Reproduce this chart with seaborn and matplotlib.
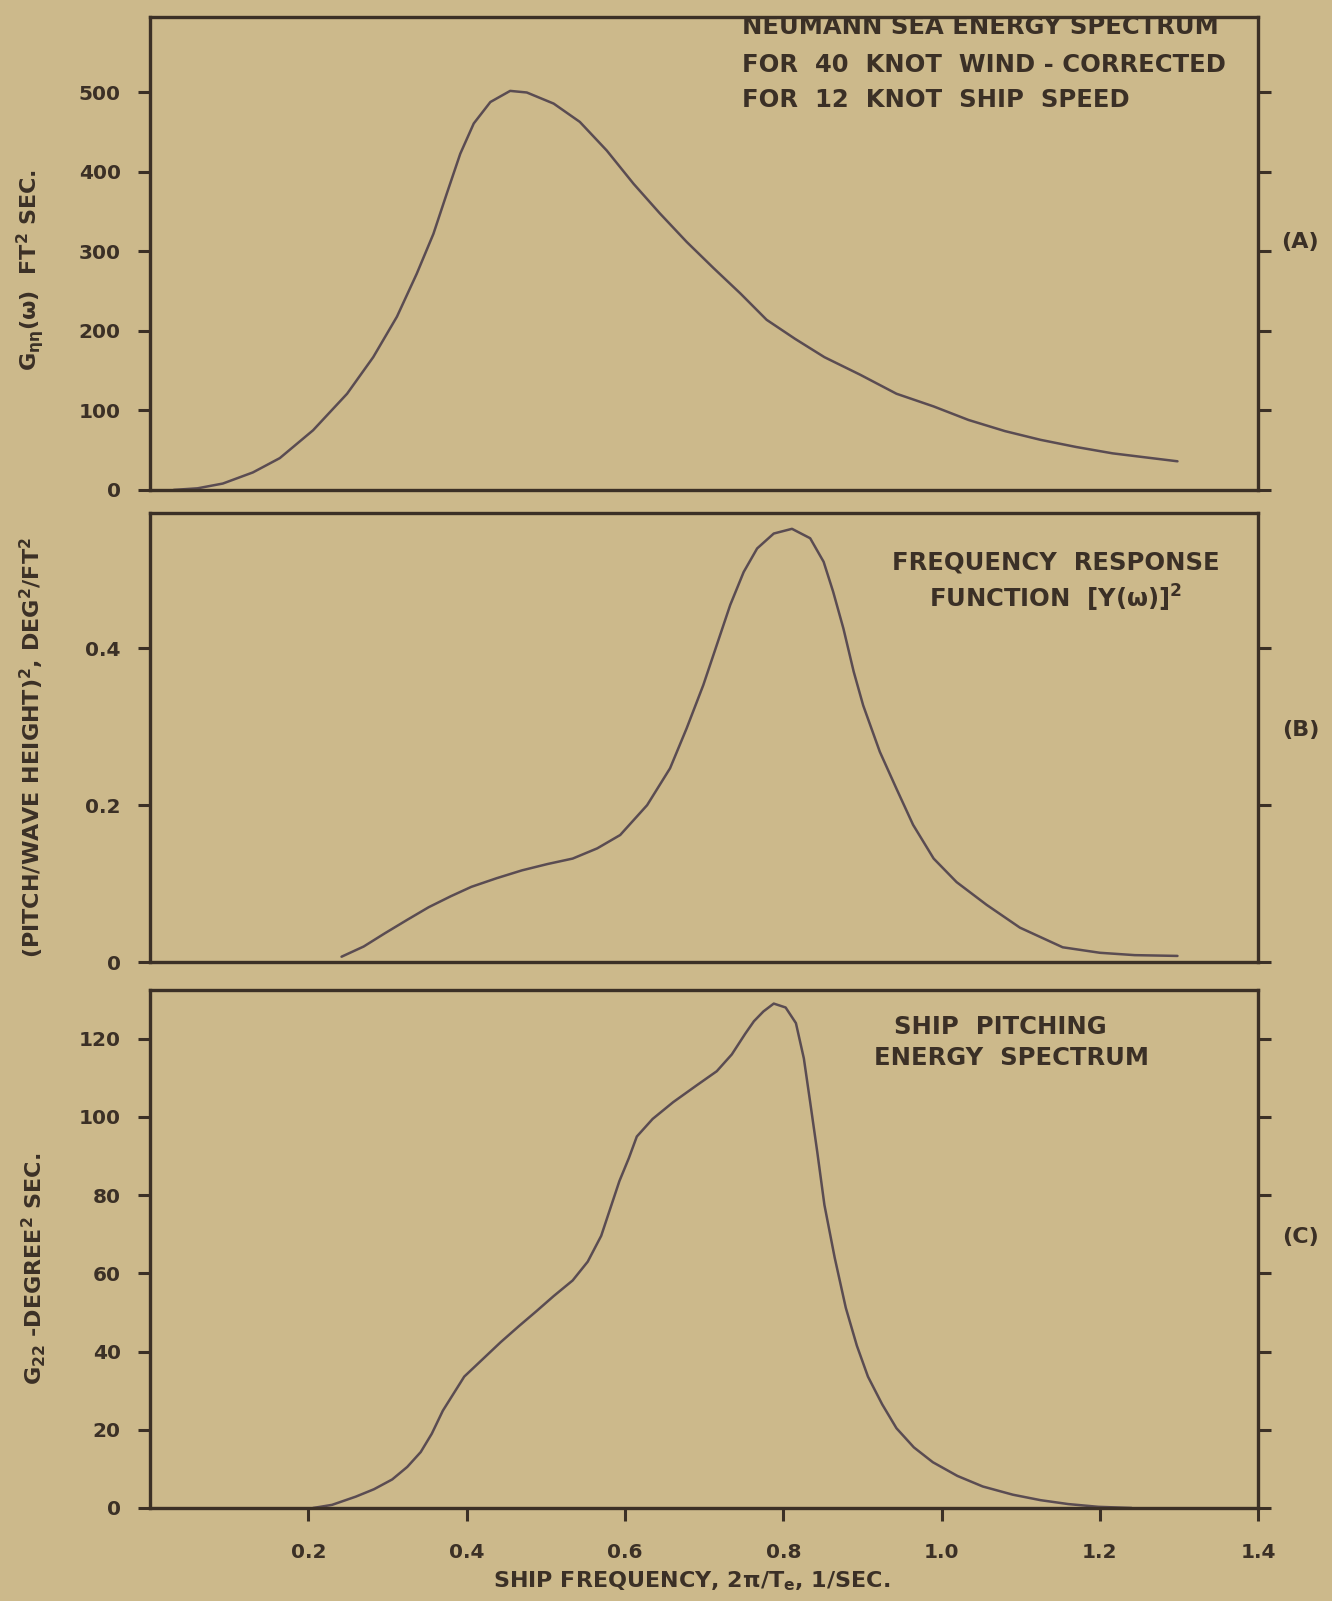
import numpy as np
import pandas as pd
import matplotlib
matplotlib.use("Agg")
import matplotlib.pyplot as plt
import seaborn as sns

# (A) Neumann sea energy spectrum
freq_a = [0.03, 0.06, 0.092, 0.13, 0.164, 0.206, 0.249, 0.282, 0.312, 0.337,
          0.358, 0.375, 0.392, 0.409, 0.430, 0.455, 0.476, 0.510, 0.543, 0.577,
          0.611, 0.644, 0.678, 0.712, 0.746, 0.779, 0.815, 0.852, 0.897, 0.943,
          0.99, 1.034, 1.08, 1.125, 1.17, 1.216, 1.257, 1.298]
sea_a = [0, 2, 8, 22, 40, 75, 121, 167, 218, 272,
         322, 373, 423, 461, 488, 502, 500, 486, 463, 427,
         385, 348, 312, 279, 247, 214, 190, 167, 145, 121,
         105, 88, 74, 63, 54, 46, 41, 36]

# (B) frequency response function
freq_b = [0.242, 0.27, 0.297, 0.325, 0.352, 0.38, 0.406, 0.438, 0.470, 0.502,
          0.534, 0.565, 0.594, 0.628, 0.657, 0.678, 0.699, 0.716, 0.733, 0.750,
          0.767, 0.788, 0.811, 0.834, 0.851, 0.863, 0.876, 0.889, 0.901, 0.922,
          0.943, 0.964, 0.990, 1.019, 1.057, 1.099, 1.153, 1.2, 1.244, 1.298]
resp_b = [0.007, 0.02, 0.037, 0.054, 0.070, 0.084, 0.096, 0.107, 0.117, 0.125,
          0.132, 0.145, 0.162, 0.200, 0.247, 0.298, 0.353, 0.404, 0.455, 0.497,
          0.527, 0.546, 0.552, 0.540, 0.510, 0.472, 0.425, 0.370, 0.327, 0.268,
          0.221, 0.175, 0.132, 0.102, 0.073, 0.044, 0.019, 0.012, 0.009, 0.008]

# (C) ship pitching energy spectrum
freq_c = [0.206, 0.23, 0.260, 0.283, 0.306, 0.325, 0.342, 0.356, 0.370, 0.397,
          0.42, 0.443, 0.466, 0.488, 0.51, 0.534, 0.553, 0.570, 0.593, 0.605,
          0.615, 0.635, 0.661, 0.69, 0.716, 0.735, 0.752, 0.763, 0.775, 0.788,
          0.803, 0.816, 0.826, 0.834, 0.843, 0.852, 0.865, 0.879, 0.893, 0.907,
          0.925, 0.943, 0.965, 0.989, 1.02, 1.052, 1.09, 1.125, 1.16, 1.198, 1.24]
pitch_c = [0, 0.8, 2.9, 4.8, 7.3, 10.5, 14.3, 19, 24.9, 33.6,
           38, 42.4, 46.5, 50.3, 54.2, 58.2, 63, 69.6, 83.6, 89.5,
           95, 99.5, 103.8, 108, 111.7, 116, 121.3, 124.5, 127, 129,
           128, 124, 115, 103.8, 91, 77.5, 64, 51.2, 41.5, 33.6,
           26.5, 20.4, 15.5, 11.7, 8.2, 5.5, 3.4, 2, 1, 0.3, 0]

xticks = [0.2, 0.4, 0.6, 0.8, 1.0, 1.2, 1.4]
xtick_labels = ["0.2", "0.4", "0.6", "0.8", "1.0", "1.2", "1.4"]
yticks_a = [0, 100, 200, 300, 400, 500]
yticks_b = [0, 0.2, 0.4]
ytick_labels_b = ["0", "0.2", "0.4"]
yticks_c = [0, 20, 40, 60, 80, 100, 120]

paper = "#ccb98b"
ink = "#3b3026"
curve = "#5a4c52"

sns.set_theme(style="ticks")
plt.rcParams["font.family"] = ["DejaVu Sans"]
plt.rcParams["font.weight"] = "bold"
plt.rcParams["text.color"] = ink
plt.rcParams["axes.labelcolor"] = ink
plt.rcParams["xtick.color"] = ink
plt.rcParams["ytick.color"] = ink
plt.rcParams["mathtext.default"] = "regular"

fig = plt.figure(figsize=(13.32, 16.01), dpi=100, facecolor=paper)
left, width = 0.1126, 0.832
ax_a = fig.add_axes([left, 0.694, width, 0.2954])
ax_b = fig.add_axes([left, 0.399, width, 0.2805])
ax_c = fig.add_axes([left, 0.0581, width, 0.3236])

df_a = pd.DataFrame({"f": freq_a, "v": sea_a})
df_b = pd.DataFrame({"f": freq_b, "v": resp_b})
df_c = pd.DataFrame({"f": freq_c, "v": pitch_c})

for ax, df in [(ax_a, df_a), (ax_b, df_b), (ax_c, df_c)]:
    sns.lineplot(data=df, x="f", y="v", ax=ax, color=curve, linewidth=1.8,
                 sort=False, estimator=None)
    ax.set_facecolor(paper)
    ax.set_xlim(0, 1.4)
    for s in ax.spines.values():
        s.set_color(ink)
        s.set_linewidth(2.4)
    ax.tick_params(axis="y", which="both", left=True, right=True, direction="out",
                   length=9, width=2.2, labelsize=14.5, pad=12)
    ax.set_xlabel("")
    ax.set_ylabel("")

ax_a.set_ylim(0, 595)
ax_a.set_yticks(yticks_a)
ax_b.set_ylim(0, 0.572)
ax_b.set_yticks(yticks_b)
ax_b.set_yticklabels(ytick_labels_b)
ax_c.set_ylim(0, 132.5)
ax_c.set_yticks(yticks_c)

for ax in (ax_a, ax_b):
    ax.set_xticks(xticks)
    ax.tick_params(axis="x", length=0, labelbottom=False)

ax_c.set_xticks(xticks)
ax_c.set_xticklabels(xtick_labels)
ax_c.tick_params(axis="x", direction="out", length=9, width=2.2,
                 labelsize=14.5, pad=16)

# axis titles
ax_a.set_ylabel(r"G$_{\eta\eta}$(ω)  FT$^2$ SEC.", fontsize=16, fontweight="bold")
ax_a.yaxis.set_label_coords(-0.094, 0.465)
ax_b.set_ylabel("(PITCH/WAVE HEIGHT)$^2$, DEG$^2$/FT$^2$", fontsize=16, fontweight="bold")
ax_b.yaxis.set_label_coords(-0.094, 0.479)
ax_c.set_ylabel("G$_{22}$ -DEGREE$^2$ SEC.", fontsize=16, fontweight="bold")
ax_c.yaxis.set_label_coords(-0.092, 0.461)
ax_c.set_xlabel("SHIP FREQUENCY, 2π/T$_e$, 1/SEC.", fontsize=16, fontweight="bold")
ax_c.xaxis.set_label_coords(0.489, -0.118)

# panel annotations
txt = dict(fontsize=17.5, fontweight="bold", color=ink)
ax_a.text(0.534, 0.979, "NEUMANN SEA ENERGY SPECTRUM", transform=ax_a.transAxes,
          ha="left", va="center", **txt)
ax_a.text(0.534, 0.899, "FOR  40  KNOT  WIND - CORRECTED", transform=ax_a.transAxes,
          ha="left", va="center", **txt)
ax_a.text(0.534, 0.825, "FOR  12  KNOT  SHIP  SPEED", transform=ax_a.transAxes,
          ha="left", va="center", **txt)

ax_b.text(0.817, 0.891, "FREQUENCY  RESPONSE", transform=ax_b.transAxes,
          ha="center", va="center", **txt)
ax_b.text(0.817, 0.811, "FUNCTION  [Y(ω)]$^2$", transform=ax_b.transAxes,
          ha="center", va="center", **txt)

ax_c.text(0.767, 0.929, "SHIP  PITCHING", transform=ax_c.transAxes,
          ha="center", va="center", **txt)
ax_c.text(0.777, 0.869, "ENERGY  SPECTRUM", transform=ax_c.transAxes,
          ha="center", va="center", **txt)

for ax, lab, yy in [(ax_a, "(A)", 0.524), (ax_b, "(B)", 0.517), (ax_c, "(C)", 0.523)]:
    ax.text(1.038, yy, lab, transform=ax.transAxes, ha="center", va="center",
            fontsize=16, fontweight="bold", color=ink)

fig.savefig("out.png", dpi=100, facecolor=paper)
